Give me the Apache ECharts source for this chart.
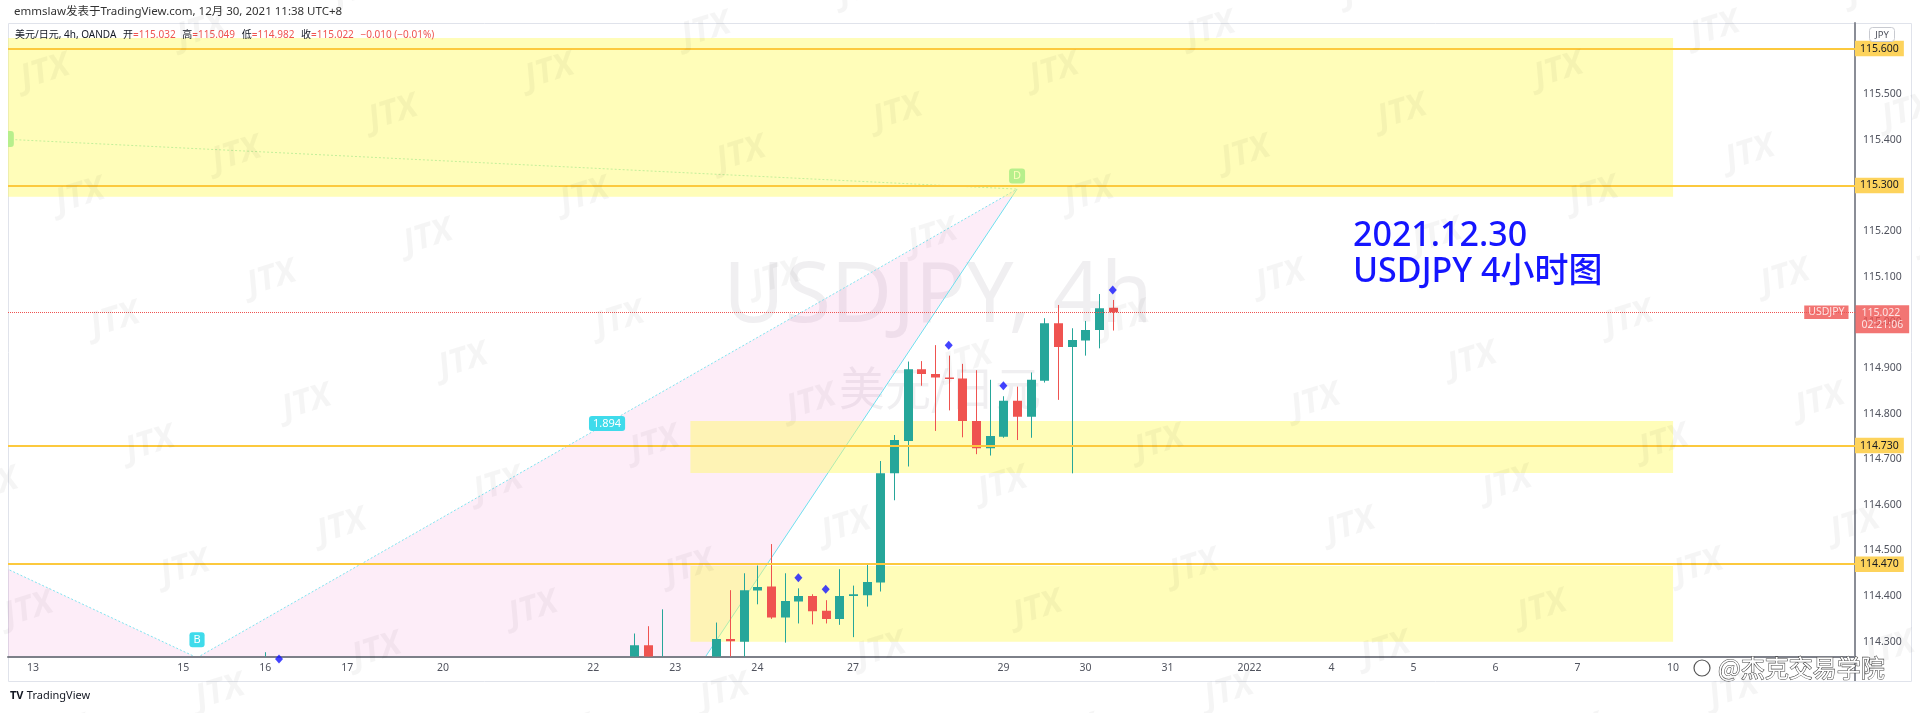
<!DOCTYPE html>
<html>
<head>
<meta charset="utf-8">
<title>USDJPY 4h</title>
<script src="https://cdn.jsdelivr.net/npm/echarts@6/dist/echarts.min.js"></script>
<style>
html, body { margin: 0; padding: 0; background: #fff; }
#chart { width: 1920px; height: 713px; }
</style>
</head>
<body>
<div id="chart"></div>
<script>
// 4h bars, bar 0 = 12月13日 06:00 (UTC+8)
const tickBars = [0, 11, 17, 23, 30, 41, 47, 53, 60, 71, 77, 83, 89, 95, 101, 107, 113, 120];
const tickLabels = ['13', '15', '16', '17', '20', '22', '23', '24', '27', '29', '30', '31', '2022', '4', '5', '6', '7', '10'];
const priceTicks = [114.3, 114.4, 114.5, 114.6, 114.7, 114.8, 114.9, 115.0, 115.1, 115.2, 115.3, 115.4, 115.5, 115.6];

const candleBars  = [17, 44, 45, 46, 47, 48, 49, 50, 51, 52, 53, 54, 55, 56, 57, 58, 59, 60, 61, 62, 63, 64, 65, 66, 67, 68, 69, 70, 71, 72, 73, 74, 75, 76, 77, 78, 79];
const candleOpen  = [114.10, 114.24, 114.292, 114.22, 114.25, 114.23, 114.22, 114.24, 114.306, 114.300, 114.412, 114.421, 114.353, 114.388, 114.400, 114.368, 114.350, 114.400, 114.402, 114.430, 114.669, 114.740, 114.897, 114.887, 114.879, 114.877, 114.784, 114.724, 114.749, 114.828, 114.793, 114.872, 114.998, 114.946, 114.960, 114.983, 115.032];
const candleClose = [114.20, 114.292, 114.25, 114.25, 114.23, 114.22, 114.24, 114.306, 114.301, 114.413, 114.420, 114.353, 114.389, 114.400, 114.367, 114.350, 114.400, 114.404, 114.431, 114.669, 114.742, 114.897, 114.887, 114.879, 114.876, 114.784, 114.724, 114.751, 114.828, 114.793, 114.874, 114.998, 114.946, 114.961, 114.983, 115.031, 115.022];
const candleLow   = [114.05, 114.23, 114.24, 114.215, 114.22, 114.213, 114.215, 114.23, 114.25, 114.26, 114.382, 114.350, 114.298, 114.340, 114.338, 114.340, 114.337, 114.310, 114.377, 114.410, 114.610, 114.684, 114.861, 114.762, 114.807, 114.748, 114.711, 114.708, 114.747, 114.742, 114.747, 114.868, 114.830, 114.669, 114.927, 114.943, 114.982];
const candleHigh  = [114.277, 114.318, 114.334, 114.371, 114.26, 114.25, 114.26, 114.342, 114.413, 114.450, 114.467, 114.514, 114.450, 114.417, 114.404, 114.391, 114.459, 114.423, 114.472, 114.696, 114.753, 114.914, 114.915, 114.950, 114.927, 114.909, 114.895, 114.874, 114.838, 114.859, 114.890, 115.009, 115.038, 114.987, 115.003, 115.062, 115.049];

// blue diamond signals
const signalBars = [18, 56, 58, 67, 71, 79];
const signalPrices = [114.262, 114.440, 114.415, 114.950, 114.861, 115.071];

// horizontal levels and zones
const levelPrices = [115.6, 115.3, 114.73, 114.47];
const lastPrice = 115.022;
const countdown = '02:21:06';
const zoneStart = [-1.83, 48.1, 48.1];
const zoneEnd = [120, 120, 120];
const zoneTop = [115.623, 114.784, 114.466];
const zoneBottom = [115.275, 114.670, 114.300];

// XABCD pattern
const patternBars = [-100, -77, 12, 48, 72];
const patternPrices = [112.55, 115.512, 114.265, 114.213, 115.292];
const ratioBD = '1.894';

const xMin = -1.83, xMax = 133.31;
const yMin = 114.2676, yMax = 115.656;

const UI_FONT = '"Noto Sans", "Noto Sans CJK SC", sans-serif';
const UP = '#26a69a';
const DOWN = '#ef5350';
const PINK = 'rgba(233,30,160,0.08)';
const CYAN = '#4fdcec';
const GREEN_TAG = '#7de6ad';

function renderCandle(params, api) {
    const b = api.value(0);
    const o = api.value(1), c = api.value(2), l = api.value(3), h = api.value(4);
    const pO = api.coord([b, o]);
    const pC = api.coord([b, c]);
    const pL = api.coord([b, l]);
    const pH = api.coord([b, h]);
    const color = c >= o ? UP : DOWN;
    const cx = Math.round(pO[0]) + 0.5;
    const top = Math.min(pO[1], pC[1]);
    const bot = Math.max(pO[1], pC[1]);
    return {
        type: 'group',
        children: [
            { type: 'line', shape: { x1: cx, y1: pH[1], x2: cx, y2: pL[1] }, style: { stroke: color, lineWidth: 1 } },
            { type: 'rect', shape: { x: cx - 4.5, y: top, width: 9, height: Math.max(bot - top, 1.5) }, style: { fill: color } }
        ]
    };
}

function renderPattern(params, api) {
    const p = patternBars.map((b, i) => api.coord([b, patternPrices[i]]));
    const X = p[0], A = p[1], B = p[2], C = p[3], D = p[4];
    const mid = (a, b) => [(a[0] + b[0]) / 2, (a[1] + b[1]) / 2];
    const seg = (a, b, color, dash) => ({
        type: 'line', silent: true,
        shape: { x1: a[0], y1: a[1], x2: b[0], y2: b[1] },
        style: { stroke: color, lineWidth: 1, lineDash: dash || null }
    });
    const tag = (pt, text, bg, dy) => ({
        type: 'text', x: pt[0], y: pt[1] + dy, silent: true,
        style: {
            text: text, fill: '#fff', font: '11px ' + UI_FONT,
            align: 'center', verticalAlign: 'middle',
            backgroundColor: bg, padding: [2, 4, 2, 4], borderRadius: 3
        }
    });
    const ad = mid(A, D);
    return {
        type: 'group',
        children: [
            { type: 'polygon', silent: true, shape: { points: [X, A, B] }, style: { fill: PINK } },
            { type: 'polygon', silent: true, shape: { points: [B, C, D] }, style: { fill: PINK } },
            seg(X, A, CYAN),
            seg(A, B, '#7fe3ef', [2, 2]),
            seg(B, C, CYAN),
            seg(C, D, '#6fe0ee'),
            seg(B, D, '#7fe3ef', [2, 2]),
            seg(A, D, '#93e6c6', [2, 2]),
            { type: 'rect', silent: true, shape: { x: ad[0] - 15, y: ad[1] - 8, width: 30, height: 16, r: 3 }, style: { fill: GREEN_TAG } },
            tag(mid(B, D), ratioBD, '#3fdbeb', 0),
            tag(B, 'B', '#3fdbeb', -18),
            tag(D, 'D', GREEN_TAG, -13)
        ]
    };
}

function jtxMarks() {
    const out = [];
    for (let i = -14; i <= 14; i++) {
        for (let j = -10; j <= 10; j++) {
            const x = 80 + i * 156.5 + j * 191.5;
            const y = 196 - i * 41.5 + j * 82.5;
            if (x < -60 || x > 1980 || y < -30 || y > 750) continue;
            out.push({
                type: 'text', x: x, y: y, rotation: 0.3, z: 50, silent: true,
                style: { text: 'JTX', font: 'italic bold 34px "Noto Sans"', fill: 'rgba(0,0,0,0.04)', align: 'center', verticalAlign: 'middle' }
            });
        }
    }
    return out;
}

function initChart() {
    const chart = echarts.init(document.getElementById('chart'));

    const levelLine = { color: '#fcc93e', width: 2, type: 'solid' };
    const levelLabel = {
        show: true, position: 'end', distance: 0,
        formatter: p => Number(p.value).toFixed(3),
        backgroundColor: '#fdd35c', color: '#131722',
        fontSize: 10.5, fontFamily: UI_FONT, padding: [3, 5, 2, 5]
    };

    const option = {
        animation: false,
        backgroundColor: '#ffffff',
        grid: { left: 8, right: 65, top: 23, bottom: 56.5, containLabel: false },
        xAxis: {
            type: 'value', min: xMin, max: xMax,
            axisLine: { show: true, onZero: false, lineStyle: { color: '#7d8089', width: 2 } },
            axisTick: { show: false },
            splitLine: { show: false },
            axisLabel: {
                customValues: tickBars,
                formatter: v => tickLabels[tickBars.indexOf(v)],
                color: '#50535e', fontSize: 10.5, fontFamily: UI_FONT, margin: 6
            }
        },
        yAxis: {
            type: 'value', position: 'right', min: yMin, max: yMax, scale: true,
            axisLine: { show: true, onZero: false, lineStyle: { color: '#8a8d96', width: 2 } },
            axisTick: { show: false },
            splitLine: { show: false },
            axisLabel: {
                customValues: priceTicks,
                formatter: v => v.toFixed(3),
                color: '#50535e', fontSize: 10.5, fontFamily: UI_FONT, margin: 8
            }
        },
        series: [
            {
                type: 'custom', name: 'XABCD', z: 0, clip: true, silent: true,
                data: [[patternBars[4], patternPrices[4]]],
                encode: { x: 0, y: 1 },
                renderItem: renderPattern
            },
            {
                // zones and levels
                type: 'line', name: 'levels', data: [], silent: true,
                markArea: {
                    z: 1, silent: true,
                    itemStyle: { color: 'rgba(255,250,100,0.45)' },
                    data: zoneStart.map((x0, i) => [
                        { xAxis: x0, yAxis: zoneTop[i] },
                        { xAxis: zoneEnd[i], yAxis: zoneBottom[i] }
                    ])
                },
                markLine: {
                    silent: true, symbol: ['none', 'none'], precision: 3,
                    data: levelPrices.map(v => ({ yAxis: v, lineStyle: levelLine, label: levelLabel }))
                        .concat([{ yAxis: lastPrice, lineStyle: { color: DOWN, width: 1, type: 'dotted' }, label: { show: false } }])
                }
            },
            {
                type: 'custom', name: '美元/日元', z: 3, clip: true, silent: true,
                data: candleBars.map((b, i) => [b, candleOpen[i], candleClose[i], candleLow[i], candleHigh[i]]),
                encode: { x: 0, y: [1, 2, 3, 4] },
                renderItem: renderCandle
            },
            {
                type: 'scatter', name: 'signals', z: 6, clip: false, silent: true,
                symbol: 'diamond', symbolSize: [8, 9],
                itemStyle: { color: '#1414ff' },
                data: signalBars.map((b, i) => [b, signalPrices[i]])
            },
            {
                type: 'scatter', name: 'tags', z: 8, clip: false, silent: true,
                symbolSize: 1, itemStyle: { color: 'rgba(0,0,0,0)' },
                data: [
                    {
                        value: [xMax, lastPrice],
                        label: {
                            show: true, position: 'right', distance: 0, offset: [0, 7],
                            formatter: lastPrice.toFixed(3) + '\n' + countdown,
                            backgroundColor: DOWN, color: '#fff', fontSize: 10.5, lineHeight: 12,
                            fontFamily: UI_FONT, padding: [2, 6, 2, 6]
                        }
                    },
                    {
                        value: [xMax, lastPrice],
                        label: {
                            show: true, position: 'left', distance: 6,
                            formatter: 'USDJPY',
                            backgroundColor: DOWN, color: '#fff', fontSize: 10.5,
                            fontFamily: UI_FONT, padding: [2, 4, 1, 4]
                        }
                    }
                ]
            }
        ],
        graphic: [
            // chart frame and price-scale divider
            { type: 'rect', silent: true, z: 0, shape: { x: 8.5, y: 23.5, width: 1903, height: 658 }, style: { fill: 'none', stroke: '#e0e3eb', lineWidth: 1 } },
            { type: 'line', silent: true, z: 5, shape: { x1: 1855, y1: 23, x2: 1855, y2: 681 }, style: { stroke: '#8a8d96', lineWidth: 2 } },
            // symbol watermark
            { type: 'text', silent: true, z: 0, x: 938, y: 298, style: { text: 'USDJPY, 4h', font: '84px "Noto Sans"', fill: 'rgba(60,50,80,0.08)', align: 'center', verticalAlign: 'middle' } },
            { type: 'text', silent: true, z: 0, x: 940, y: 388, style: { text: '美元/日元', font: '46px "Noto Sans CJK SC"', fill: 'rgba(60,50,80,0.08)', align: 'center', verticalAlign: 'middle' } },
            // header
            { type: 'text', silent: true, x: 14, y: 12, style: { text: 'emmslaw发表于TradingView.com, 12月 30, 2021 11:38 UTC+8', font: '11.5px ' + UI_FONT, fill: '#333', verticalAlign: 'middle' } },
            {
                type: 'text', silent: true, z: 20, x: 15, y: 35,
                style: {
                    text: '{d|美元/日元, 4h, OANDA}  {d|开}{r|=115.032}  {d|高}{r|=115.049}  {d|低}{r|=114.982}  {d|收}{r|=115.022}  {r|−0.010 (−0.01%)}',
                    verticalAlign: 'middle',
                    rich: {
                        d: { fill: '#131722', font: '10px ' + UI_FONT },
                        r: { fill: DOWN, font: '10px ' + UI_FONT }
                    }
                }
            },
            // JPY currency box
            { type: 'rect', silent: true, z: 20, shape: { x: 1869.5, y: 27.5, width: 25, height: 14, r: 3 }, style: { fill: '#fff', stroke: '#c8cad0', lineWidth: 1 } },
            { type: 'text', silent: true, z: 21, x: 1882, y: 35, style: { text: 'JPY', font: '9.5px ' + UI_FONT, fill: '#50535e', align: 'center', verticalAlign: 'middle' } },
            // note text
            { type: 'text', silent: true, z: 20, x: 1353, y: 236, style: { text: '2021.12.30', font: '500 34px "Noto Sans", "Noto Sans CJK SC"', fill: '#1515ff', verticalAlign: 'middle' } },
            { type: 'text', silent: true, z: 20, x: 1353, y: 272, style: { text: 'USDJPY 4小时图', font: '500 34px "Noto Sans", "Noto Sans CJK SC"', fill: '#1515ff', verticalAlign: 'middle' } },
            // footer
            { type: 'text', silent: true, x: 10, y: 696, style: { text: '{l|TV} {t|TradingView}', verticalAlign: 'middle', rich: { l: { fill: '#131722', font: 'bold 11px "Noto Sans"' }, t: { fill: '#131722', font: '11px "Noto Sans"' } } } },
            { type: 'circle', silent: true, z: 30, shape: { cx: 1702, cy: 668, r: 8 }, style: { fill: '#fff', stroke: '#555', lineWidth: 1.2 } },
            { type: 'text', silent: true, z: 30, x: 1718, y: 668, style: { text: '@杰克交易学院', font: '24px "Noto Sans CJK SC"', fill: '#ffffff', stroke: '#444', lineWidth: 1.1, verticalAlign: 'middle' } }
        ].concat(jtxMarks())
    };

    chart.setOption(option);
}

window.onload = function () {
    initChart();
};
</script>
</body>
</html>
